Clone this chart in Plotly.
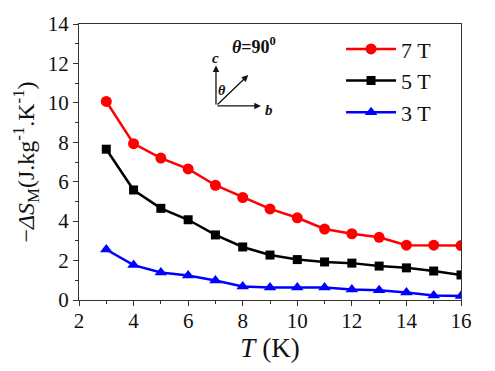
import plotly.graph_objects as go

T = [3, 4, 5, 6, 7, 8, 9, 10, 11, 12, 13, 14, 15, 16]
s7 = [10.07, 7.93, 7.2, 6.65, 5.82, 5.2, 4.62, 4.17, 3.6, 3.36, 3.18, 2.78, 2.78, 2.76]
s5 = [7.65, 5.58, 4.65, 4.07, 3.3, 2.69, 2.28, 2.05, 1.93, 1.87, 1.72, 1.63, 1.47, 1.27]
s3 = [2.56, 1.77, 1.4, 1.24, 0.99, 0.69, 0.63, 0.63, 0.63, 0.53, 0.5, 0.38, 0.23, 0.2]
labels = ["7 T", "5 T", "3 T"]

FONT = "'Times New Roman', 'Liberation Serif', 'DejaVu Serif', serif"
fig = go.Figure()
for ys, name, col, sym, sz in [(s7, labels[0], "#ff0000", "circle", 11),
                               (s5, labels[1], "#000000", "square", 9),
                               (s3, labels[2], "#0000ff", "triangle-up", 11)]:
    fig.add_trace(go.Scatter(x=T, y=ys, name=name, mode="lines+markers",
                             line=dict(color=col, width=2.5),
                             marker=dict(symbol=sym, size=sz, color=col)))

axis_common = dict(showline=True, linecolor="#333", linewidth=1.2, mirror=True,
                   ticks="outside", ticklen=5, tickwidth=1.2, tickcolor="#333",
                   showgrid=False, zeroline=False,
                   tickfont=dict(family=FONT, size=21, color="#111"),
                   minor=dict(ticks="outside", ticklen=3, tickwidth=1.2, tickcolor="#333", dtick=1))
fig.update_xaxes(range=[2, 16], dtick=2, **axis_common, ticklabelstandoff=-3,
                 title=dict(text="<i>T</i> (K)", font=dict(family=FONT, size=27, color="#111"), standoff=0))
fig.update_yaxes(range=[0, 14], dtick=2, **axis_common,
                 title=dict(text="−<i>ΔS</i><sub>M</sub>(J.kg<sup>-1</sup>.K<sup>-1</sup>)",
                            font=dict(family=FONT, size=24, color="#111"), standoff=6))

ann = []
bx, by = 0.3586, 0.703
for tx, ty in [(0.3586, 0.85), (0.476, 0.703), (0.443, 0.815)]:
    ann.append(dict(x=tx, y=ty, xref="x domain", yref="y domain", ax=bx, ay=by,
                    axref="x domain", ayref="y domain", font=dict(size=1),
                    showarrow=True, arrowhead=2, arrowsize=1, arrowwidth=1.3, arrowcolor="#111", text=""))
ann += [
    dict(x=0.3586, y=0.877, xref="x domain", yref="y domain", text="<b><i>c</i></b>", showarrow=False,
         yanchor="middle", font=dict(family=FONT, size=15, color="#111")),
    dict(x=0.497, y=0.689, xref="x domain", yref="y domain", text="<b><i>b</i></b>", showarrow=False,
         yanchor="middle", font=dict(family=FONT, size=15, color="#111")),
    dict(x=0.3735, y=0.76, xref="x domain", yref="y domain", text="<b><i>θ</i></b>", showarrow=False,
         yanchor="middle", font=dict(family=FONT, size=14, color="#111")),
    dict(x=0.395, y=0.922, xref="x domain", yref="y domain", text="<b><i>θ</i>=90<sup>0</sup></b>",
         showarrow=False, xanchor="left", yanchor="middle", font=dict(family=FONT, size=18, color="#111")),
]

fig.update_layout(
    width=495, height=371, margin=dict(l=79, r=34, t=17, b=71),
    paper_bgcolor="white", plot_bgcolor="white",
    showlegend=True,
    legend=dict(x=0.686, y=0.985, xanchor="left", yanchor="top", bgcolor="rgba(0,0,0,0)",
                font=dict(family=FONT, size=22, color="#111"), itemwidth=50, tracegroupgap=0),
    annotations=ann,
)
fig.write_html("out.html", config={"displayModeBar": False},
               post_script="document.body.style.margin='0';")
